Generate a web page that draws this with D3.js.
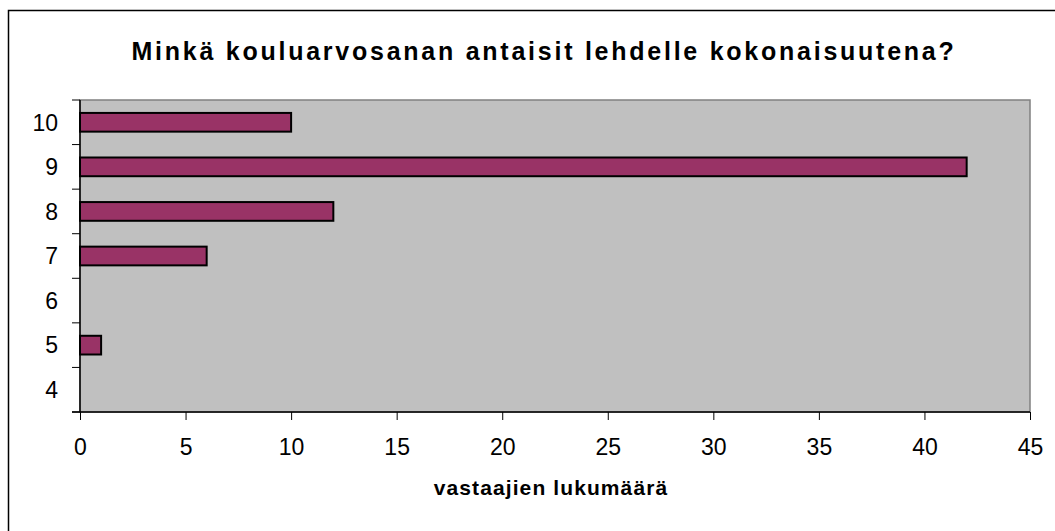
<!DOCTYPE html>
<html>
<head>
<meta charset="utf-8">
<script src="https://cdn.jsdelivr.net/npm/d3@7"></script>
<style>
  body { margin: 0; background: #fff; }
  text { font-family: "Liberation Sans", Arial, sans-serif; }
</style>
</head>
<body>
<div id="chart"></div>
<script>
// grades (categories) and answer counts
const grades = ["10", "9", "8", "7", "6", "5", "4"];
const counts = [10, 42, 12, 6, 0, 1, 0];
const xTicks = [0, 5, 10, 15, 20, 25, 30, 35, 40, 45];
const titleText = "Minkä kouluarvosanan antaisit lehdelle kokonaisuutena?";
const xTitle = "vastaajien lukumäärä";

const W = 1055, H = 531;
const margin = {top: 100, right: 25, bottom: 119, left: 80},
  width = W - margin.left - margin.right,
  height = H - margin.top - margin.bottom;

const svg = d3.select("#chart").append("svg")
  .attr("width", W).attr("height", H);

// outer chart border (only left/top visible in frame)
svg.append("rect")
  .attr("x", 8.5).attr("y", 10.5)
  .attr("width", W + 20).attr("height", H + 20)
  .attr("fill", "none").attr("stroke", "#000").attr("stroke-width", 1.5);

svg.append("text")
  .attr("x", 544).attr("y", 60)
  .attr("text-anchor", "middle")
  .style("font-size", "25px").style("font-weight", "bold")
  .style("letter-spacing", "2.75px")
  .text(titleText);

const g = svg.append("g")
  .attr("transform", `translate(${margin.left},${margin.top})`);

const x = d3.scaleLinear().domain([0, 45]).range([0, width]);
const y = d3.scaleBand().domain(grades).range([0, height]).paddingInner(0.58).paddingOuter(0.29);
const yb = d3.scaleBand().domain(grades).range([0, height]);

// plot background
g.append("rect")
  .attr("width", width).attr("height", height)
  .attr("fill", "#c0c0c0").attr("stroke", "#808080").attr("stroke-width", 1.5);

// bars
g.selectAll(".bar")
  .data(grades.map((d, i) => ({grade: d, n: counts[i]})).filter(d => d.n > 0))
  .enter().append("rect")
  .attr("class", "bar")
  .attr("x", 0)
  .attr("y", d => y(d.grade))
  .attr("width", d => x(d.n))
  .attr("height", y.bandwidth())
  .attr("fill", "#993366")
  .attr("stroke", "#000").attr("stroke-width", 2);

// y axis: ticks between categories
const yAxis = g.append("g");
yAxis.append("line").attr("x1", 0).attr("x2", 0).attr("y1", 0).attr("y2", height)
  .attr("stroke", "#000").attr("stroke-width", 1.5);
yAxis.selectAll(".yt")
  .data(grades.concat(["end"]))
  .enter().append("line")
  .attr("x1", -8).attr("x2", 0)
  .attr("y1", (d, i) => i < grades.length ? yb(d) : height)
  .attr("y2", (d, i) => i < grades.length ? yb(d) : height)
  .attr("stroke", "#000");
yAxis.selectAll(".yl")
  .data(grades)
  .enter().append("text")
  .attr("x", -22)
  .attr("y", d => yb(d) + yb.bandwidth() / 2)
  .attr("dy", "0.36em")
  .attr("text-anchor", "end")
  .style("font-size", "23px")
  .text(d => d);

// x axis
const xAxis = g.append("g").attr("transform", `translate(0,${height})`)
  .call(d3.axisBottom(x).tickValues(xTicks).tickSize(8).tickSizeOuter(0).tickPadding(19));
xAxis.select(".domain").attr("stroke-width", 1.5).attr("d", `M-8,0H${width}`);
xAxis.selectAll("text").style("font-size", "23px").attr("fill", "#000");

svg.append("text")
  .attr("x", 551).attr("y", 495)
  .attr("text-anchor", "middle")
  .style("font-size", "21px").style("font-weight", "bold")
  .style("letter-spacing", "1.1px")
  .text(xTitle);
</script>
</body>
</html>
